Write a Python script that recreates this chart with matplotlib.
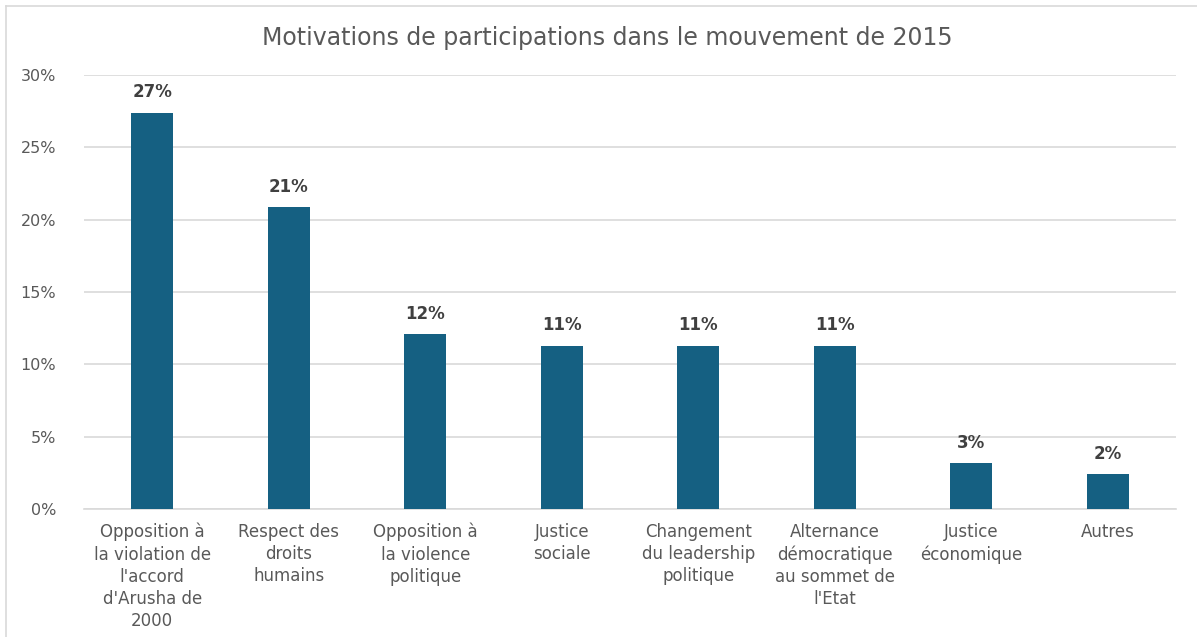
import matplotlib.pyplot as plt
from matplotlib.lines import Line2D
from matplotlib.ticker import PercentFormatter

plt.rcParams['font.family'] = ['DejaVu Sans']

categories = [
    "Opposition à\nla violation de\nl'accord\nd'Arusha de\n2000",
    "Respect des\ndroits\nhumains",
    "Opposition à\nla violence\npolitique",
    "Justice\nsociale",
    "Changement\ndu leadership\npolitique",
    "Alternance\ndémocratique\nau sommet de\nl'Etat",
    "Justice\néconomique",
    "Autres",
]
values = [27.4, 20.9, 12.1, 11.3, 11.3, 11.3, 3.2, 2.4]
value_labels = ['27%', '21%', '12%', '11%', '11%', '11%', '3%', '2%']
yticks = [0, 5, 10, 15, 20, 25, 30]

bar_color = '#156082'
text_color = '#595959'

fig = plt.figure(figsize=(11.97, 6.37), dpi=100)
ax = fig.add_axes([0.0702, 0.2009, 0.9123, 0.6814])

x = range(len(categories))
bars = ax.bar(x, values, width=0.31, color=bar_color, zorder=3)

for b, lab in zip(bars, value_labels):
    ax.annotate(lab, (b.get_x() + b.get_width() / 2, b.get_height()),
                xytext=(0, 8), textcoords='offset points', ha='center', va='bottom',
                fontsize=12, fontweight='bold', color='#404040')

ax.set_xlim(-0.5, len(categories) - 0.5)
ax.set_ylim(0, 30)
ax.set_yticks(yticks)
ax.yaxis.set_major_formatter(PercentFormatter(decimals=0))
ax.set_xticks(list(x))
ax.set_xticklabels(categories, fontsize=12, color=text_color, linespacing=1.3, va='top')

ax.grid(axis='y', color='#d9d9d9', linewidth=1.2, zorder=0)
for s in ['top', 'right', 'left']:
    ax.spines[s].set_visible(False)
ax.spines['bottom'].set_color('#d9d9d9')
ax.spines['bottom'].set_linewidth(1.2)
ax.tick_params(axis='both', length=0)
ax.tick_params(axis='y', labelsize=11.5, labelcolor=text_color, pad=20)
ax.tick_params(axis='x', pad=10)

fig.text(0.507, 0.94, 'Motivations de participations dans le mouvement de 2015',
         ha='center', va='center', fontsize=17, color=text_color)

# chart frame: only the top and left edges are visible
fig.lines.append(Line2D([6 / 1197, 1], [1 - 6 / 637, 1 - 6 / 637],
                        transform=fig.transFigure, color='#d9d9d9', linewidth=1.2))
fig.lines.append(Line2D([6 / 1197, 6 / 1197], [0, 1 - 6 / 637],
                        transform=fig.transFigure, color='#d9d9d9', linewidth=1.2))

fig.savefig('out.png', dpi=100)
